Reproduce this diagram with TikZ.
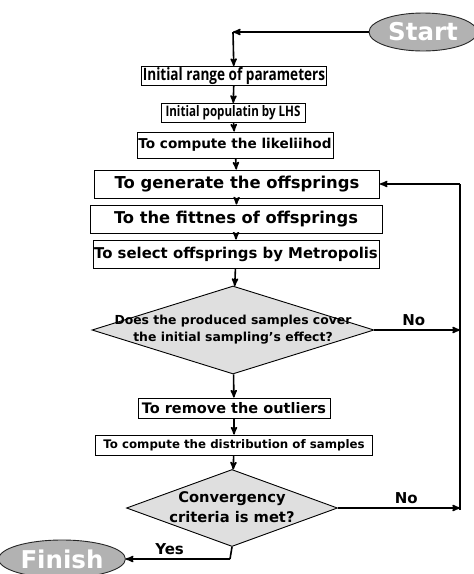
\documentclass[tikz,border=0pt]{standalone}
\usepackage{fontspec}
\setmainfont{DejaVu Sans}
\newfontfamily\condfont[FakeStretch=0.8]{Open Sans}
\usetikzlibrary{shapes.geometric, positioning, arrows}

\begin{document}
\begin{tikzpicture}[->,>=stealth',x=1pt,y=-1pt,line width=1.6pt]
  \tikzstyle{box}=[rectangle,draw,line width=0.9pt,inner sep=0pt,minimum height=28pt,font=\bfseries\fontsize{14}{16}\selectfont]
  \tikzstyle{cbox}=[box,minimum height=19pt,font=\condfont\bfseries\fontsize{13.5}{15}\selectfont]
  \tikzstyle{test}=[diamond,draw,line width=0.9pt,fill=gray!25,inner sep=0pt]
  \tikzstyle{term}=[ellipse,draw=gray!30!black,line width=0.9pt,fill=gray!60,text=white,minimum width=104pt,minimum height=38pt,font=\bfseries\fontsize{24.5}{26}\selectfont]
  \tikzstyle{lbl}=[above,font=\bfseries\fontsize{15}{17}\selectfont]
  \useasboundingbox (0,0) rectangle (474,574);

  \node[term] (start) at (423,32) {Start};
  \node[cbox,minimum width=185pt,font=\condfont\bfseries\fontsize{17}{18}\selectfont] (range) at (234,76) {Initial range of parameters};
  \node[cbox,minimum width=144pt,font=\condfont\bfseries\fontsize{14.5}{16}\selectfont] (lhs) at (233,113) {Initial populatin by LHS};
  \node[box,minimum width=196pt,minimum height=26pt,font=\bfseries\fontsize{13.6}{15}\selectfont] (like) at (235,145) {To compute the likeliihod};
  \node[box,minimum width=285pt,font=\bfseries\fontsize{16.4}{18}\selectfont] (gen) at (237,184) {To generate the offsprings};
  \node[box,minimum width=292pt,font=\bfseries\fontsize{16.3}{18}\selectfont] (fit) at (236,219) {To the fittnes of offsprings};
  \node[box,minimum width=286pt,font=\bfseries\fontsize{14.9}{17}\selectfont] (sel) at (236,254) {To select offsprings by Metropolis};
  \node[test,minimum width=282pt,minimum height=88pt] (cover) at (233,330)
    {\makebox[0pt]{\fontsize{12.4}{17}\selectfont\bfseries\begin{tabular}{@{}c@{}}Does the produced samples cover\\the initial sampling's effect?\end{tabular}}};
  \node[box,minimum width=192pt,minimum height=20pt,font=\bfseries\fontsize{14.5}{16}\selectfont] (outl) at (234,408) {To remove the outliers};
  \node[box,minimum width=277pt,minimum height=20pt,font=\bfseries\fontsize{11.8}{13}\selectfont] (dist) at (234,445) {To compute the distribution of samples};
  \node[test,minimum width=211pt,minimum height=77pt] (conv) at (232,508)
    {\makebox[0pt]{\fontsize{14.7}{20}\selectfont\bfseries\begin{tabular}{@{}c@{}}Convergency\\criteria is met?\end{tabular}}};
  \node[term] (finish) at (62,559) {Finish};

  \coordinate (sc) at (233,32);
  \coordinate (yb) at (230,559);
  \coordinate (ra) at (460,330);
  \coordinate (rb) at (460,510);
  \coordinate (rt) at (460,184);

  \draw (start) -- (sc);
  \draw (sc) -- (range);
  \draw (range) -- (lhs);
  \draw (lhs) -- (like);
  \draw (like) -- (gen);
  \draw (gen) -- (fit);
  \draw (fit) -- (sel);
  \draw (sel) -- (cover);
  \draw (cover) -- (outl);
  \draw (outl) -- (dist);
  \draw (dist) -- (conv);
  \draw (cover.east) -- node[lbl,pos=0.46] {No} (ra);
  \draw (conv.east) -- node[lbl,pos=0.56] {No} (conv.east -| rb);
  \draw[line width=2.4pt,-] (rb) -- (rt);
  \draw (rt) -- (gen.east);
  \draw[-] (conv.south) -- (yb);
  \draw (yb) -- node[lbl,pos=0.58] {Yes} (finish.east);
\end{tikzpicture}
\end{document}
